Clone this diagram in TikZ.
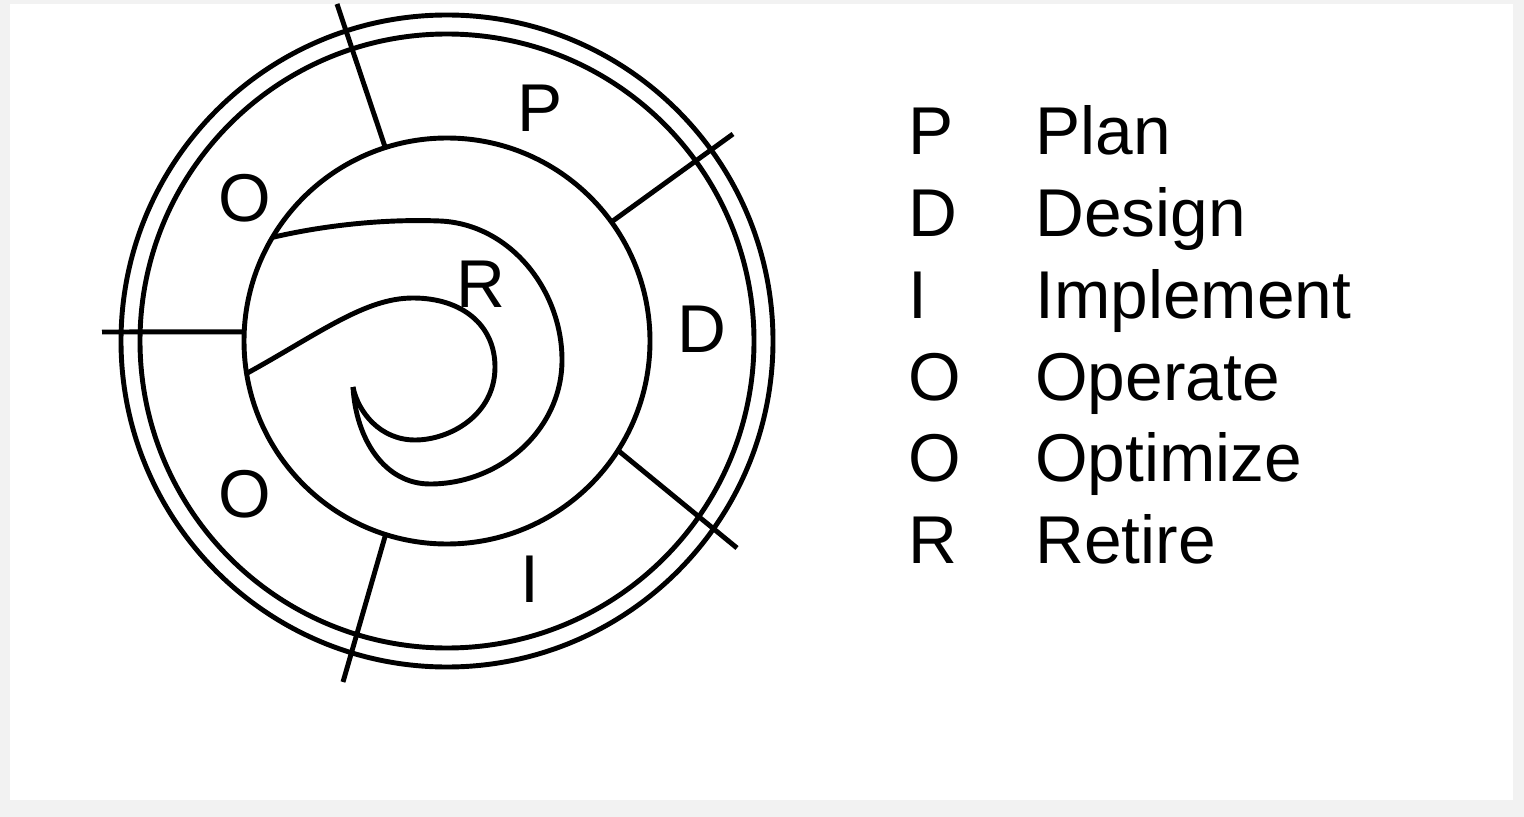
\documentclass[tikz,border=0pt]{standalone}
\usepackage{fontspec}
\setmainfont{Liberation Sans}
\begin{document}
\begin{tikzpicture}[x=0.02cm,y=-0.02cm,
  ring/.style={line width=2.8pt, draw=black},
  lbl/.style={inner sep=0pt, anchor=base, font=\fontsize{38.5}{41}\selectfont},
  leg/.style={inner sep=0pt, anchor=base west, font=\fontsize{38.5}{41}\selectfont}]
\fill[gray!10] (0,0) rectangle (1524,817);
\fill[white] (10,4) rectangle (1513,800);
\useasboundingbox (0,0) rectangle (1524,817);
\coordinate (c) at (447,341);
% rings
\draw[ring] (c) circle (326);
\draw[ring] (c) circle (307);
\draw[ring] (c) circle (203);
% dividers
\path (c) ++(-107.7:203) coordinate (d1a);
\coordinate (d1b) at (337,4);
\path (c) ++(-35.9:203) coordinate (d2a);
\coordinate (d2b) at (733,134);
\path (c) ++(-177.4:203) coordinate (d3a);
\coordinate (d3b) at (102,332);
\path (c) ++(32.6:203) coordinate (d4a);
\coordinate (d4b) at (737,548);
\path (c) ++(107.6:203) coordinate (d5a);
\coordinate (d5b) at (343,682);
\draw[ring] (d1a) -- (d1b);
\draw[ring] (d2a) -- (d2b);
\draw[ring] (d3a) -- (d3b);
\draw[ring] (d4a) -- (d4b);
\draw[ring] (d5a) -- (d5b);
% spiral
\path (c) ++(-149.3:203) coordinate (s1);
\path (c) ++(170.8:203) coordinate (s2);
\coordinate (tip) at (353,387);
\draw[ring, line join=round] (s1) .. controls (330,224) and (390,219) .. (440,221)
  .. controls (510,224) and (562,290) .. (562,360)
  .. controls (562,430) and (500,484) .. (430,484)
  .. controls (385,484) and (356,440) .. (tip);
\draw[ring, line join=round] (s2) .. controls (320,333) and (365,298) .. (413,298)
  .. controls (462,298) and (495,325) .. (495,367)
  .. controls (495,415) and (450,440) .. (415,440)
  .. controls (380,440) and (358,412) .. (tip);
% circle labels
\node[lbl] (lp) at (540,132) {P};
\node[lbl] (lo1) at (245,222) {O};
\node[lbl] (lr) at (481,308) {R};
\node[lbl] (ld) at (702,353) {D};
\node[lbl] (lo2) at (245,517) {O};
\node[lbl] (li) at (530,602) {I};
% legend
\node[leg] (k1) at (908,155) {P};
\node[leg] (k2) at (908,236.7) {D};
\node[leg] (k3) at (908,318.3) {I};
\node[leg] (k4) at (908,400) {O};
\node[leg] (k5) at (908,481.7) {O};
\node[leg] (k6) at (908,563.3) {R};
\node[leg] (w1) at (1035,155) {Plan};
\node[leg] (w2) at (1035,236.7) {Design};
\node[leg] (w3) at (1035,318.3) {Implement};
\node[leg] (w4) at (1035,400) {Operate};
\node[leg] (w5) at (1035,481.7) {Optimize};
\node[leg] (w6) at (1035,563.3) {Retire};
\end{tikzpicture}
\end{document}
